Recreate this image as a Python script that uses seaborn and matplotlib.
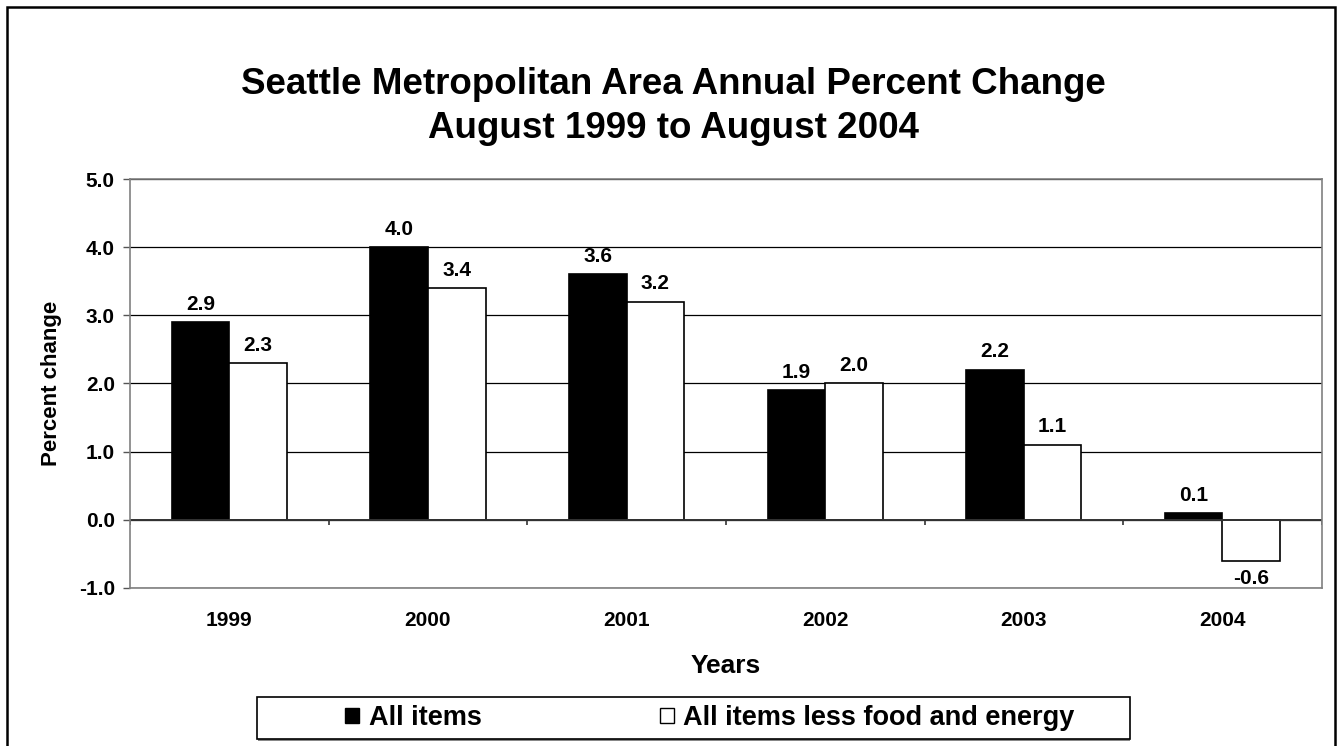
import numpy as np
import pandas as pd
import seaborn as sns
import matplotlib.pyplot as plt
from matplotlib.patches import Rectangle

# Seattle CPI, annual percent change (August to August)
years = ['1999', '2000', '2001', '2002', '2003', '2004']
all_items = [2.9, 4.0, 3.6, 1.9, 2.2, 0.1]
core_items = [2.3, 3.4, 3.2, 2.0, 1.1, -0.6]
series_names = ['All items', 'All items less food and energy']

df = pd.DataFrame({
    'Year': years * 2,
    'Series': [series_names[0]] * len(years) + [series_names[1]] * len(years),
    'Change': all_items + core_items,
})

sns.set_style('white', {'text.color': 'black', 'axes.labelcolor': 'black',
                        'xtick.color': 'black', 'ytick.color': 'black'})
plt.rcParams['font.family'] = ['Liberation Sans', 'DejaVu Sans']

fig = plt.figure(figsize=(13.42, 7.46), dpi=100)
ax = fig.add_axes([0.0969, 0.212, 0.888, 0.548])

sns.barplot(data=df, x='Year', y='Change', hue='Series', palette=['black', 'white'],
            edgecolor='black', linewidth=1.2, width=0.58, saturation=1, ax=ax, legend=False)

for cont in ax.containers:
    ax.bar_label(cont, fmt='%.1f', padding=6, fontsize=15, fontweight='bold')

ax.set_ylim(-1.0, 5.0)
ax.set_xlim(-0.5, len(years) - 0.5)
yt = np.arange(-1.0, 5.01, 1.0)
ax.set_yticks(yt)
ax.set_yticklabels([f'{v:.1f}' for v in yt], fontsize=15, fontweight='bold')
ax.set_axisbelow(True)
ax.yaxis.grid(True, color='black', linewidth=0.9)
ax.tick_params(axis='y', left=True, length=5, color='#555555', width=1, pad=6)
ax.tick_params(axis='x', length=0, labelsize=15, pad=17)
for lab in ax.get_xticklabels():
    lab.set_fontweight('bold')
for s in ax.spines.values():
    s.set_color('#808080')
    s.set_linewidth(1.2)

# category axis crossing at zero with boundary ticks
ax.axhline(0, color='#333333', linewidth=1.4, zorder=1)
ax.vlines(np.arange(-0.5, len(years)), 0, -0.08, color='#333333', linewidth=1.2, zorder=1)

ax.set_xlabel('Years', fontsize=19, fontweight='bold', labelpad=17)
ax.set_ylabel('Percent change', fontsize=16, fontweight='bold', labelpad=12)

fig.text(0.502, 1 - 106.5 / 746, 'Seattle Metropolitan Area Annual Percent Change\nAugust 1999 to August 2004',
         ha='center', va='center', fontsize=26.5, fontweight='bold', linespacing=1.3)

handles = [Rectangle((0, 0), 1, 1, facecolor='black', edgecolor='black'),
           Rectangle((0, 0), 1, 1, facecolor='white', edgecolor='black')]
leg = fig.legend(handles, series_names, loc='center', bbox_to_anchor=(710 / 1342, 1 - 718 / 746),
                 ncol=2, frameon=False, prop={'weight': 'bold', 'size': 19.5},
                 handlelength=0.5, handleheight=0.5, handletextpad=0.35, columnspacing=6.6)

# legend box with a light shadow along the bottom
fig.patches.append(Rectangle((258 / 1342, 1 - 741 / 746), 872 / 1342, 2.5 / 746, transform=fig.transFigure,
                             facecolor='#888888', edgecolor='none'))
fig.patches.append(Rectangle((257 / 1342, 1 - 739 / 746), 873 / 1342, 42 / 746, transform=fig.transFigure,
                             facecolor='none', edgecolor='black', linewidth=1.2))

# outer chart border
fig.patches.append(Rectangle((7 / 1342, -0.02), 1328 / 1342, 1.02 - 7 / 746, transform=fig.transFigure,
                             fill=False, edgecolor='black', linewidth=1.8))

fig.savefig('out.png', dpi=100)
